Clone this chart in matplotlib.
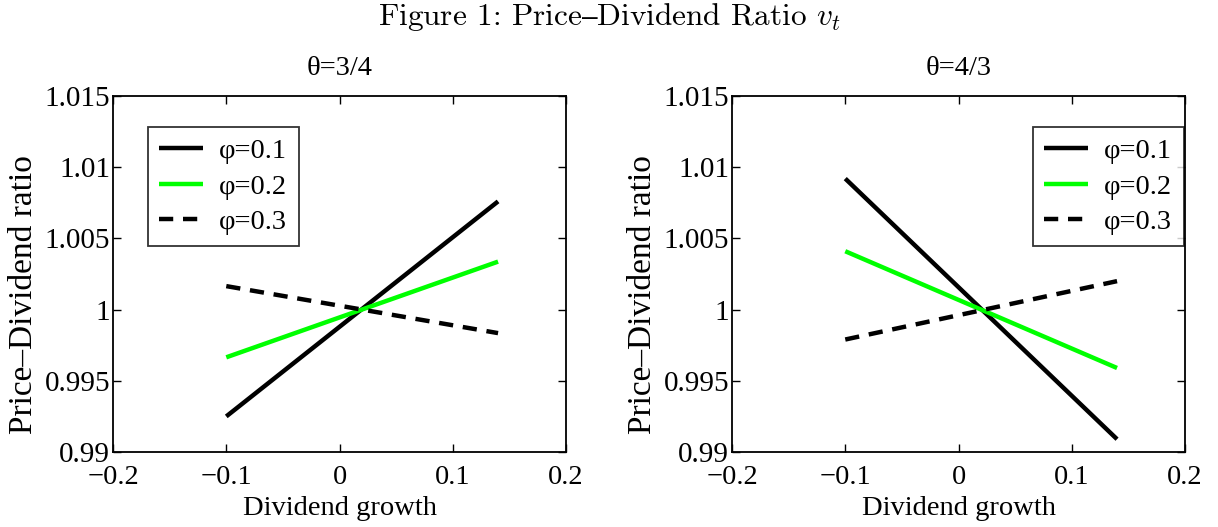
import matplotlib
matplotlib.use("Agg")
import matplotlib.pyplot as plt

# ---- data ----
x_growth = [-0.10, 0.14]
labels = ["φ=0.1", "φ=0.2", "φ=0.3"]
titles = ["θ=3/4", "θ=4/3"]
left_phi01 = [0.9925, 1.0076]
left_phi02 = [0.99665, 1.00337]
left_phi03 = [1.00165, 0.99835]
right_phi01 = [1.0092, 0.9909]
right_phi02 = [1.0041, 0.9959]
right_phi03 = [0.9979, 1.0020]
xticks = [-0.2, -0.1, 0, 0.1, 0.2]
xticklabels = ["\u22120.2", "\u22120.1", "0", "0.1", "0.2"]
yticks = [0.99, 0.995, 1.0, 1.005, 1.01, 1.015]
yticklabels = ["0.99", "0.995", "1", "1.005", "1.01", "1.015"]

plt.rcParams['font.family'] = ['Liberation Serif', 'DejaVu Serif']
plt.rcParams['mathtext.fontset'] = 'cm'

fig = plt.figure(figsize=(12.18, 5.27), dpi=100)
ax1 = fig.add_axes([0.0928, 0.1423, 0.3719, 0.6755])
ax2 = fig.add_axes([0.6010, 0.1423, 0.3719, 0.6755])

for ax, series, title, loc in [
    (ax1, [left_phi01, left_phi02, left_phi03], titles[0], 'upper left'),
    (ax2, [right_phi01, right_phi02, right_phi03], titles[1], 'upper right'),
]:
    ax.plot(x_growth, series[0], color='black', lw=3.2, solid_capstyle='butt', label=labels[0])
    ax.plot(x_growth, series[1], color='#00ff00', lw=3.2, solid_capstyle='butt', label=labels[1])
    ax.plot(x_growth, series[2], color='black', lw=3.2, dashes=(3.2, 2.2), dash_capstyle='butt', label=labels[2])
    ax.set_xlim(-0.2, 0.2)
    ax.set_ylim(0.99, 1.015)
    ax.set_xticks(xticks)
    ax.set_xticklabels(xticklabels)
    ax.set_yticks(yticks)
    ax.set_yticklabels(yticklabels)
    ax.tick_params(direction='in', top=True, right=True, length=6, width=1.0)
    ax.tick_params(axis='x', labelsize=20.5, pad=9)
    ax.tick_params(axis='y', labelsize=21, pad=2)
    for s in ax.spines.values():
        s.set_linewidth(1.3)
    ax.set_xlabel("Dividend growth", fontsize=20.5, labelpad=5)
    ax.set_ylabel("Price\u2013Dividend ratio", fontsize=24)
    ax.yaxis.set_label_coords(-0.163, 0.441)
    ax.set_title(title, fontsize=20.5, pad=15)
    if loc == 'upper left':
        anchor = (0.077, 0.913)
    else:
        anchor = (0.997, 0.913)
    leg = ax.legend(loc=loc, fontsize=20.5, frameon=True, fancybox=False,
                    edgecolor='black', handlelength=1.55, handletextpad=0.55,
                    borderpad=0.4, labelspacing=0.33, borderaxespad=0,
                    bbox_to_anchor=anchor)
    leg.get_frame().set_linewidth(1.3)

title_text = "Figure 1: Price$\\mathrm{\u2013}$Dividend Ratio $v_t$"
fig.text(0.5, 0.9526, title_text, ha='center', va='baseline', fontsize=22.5,
         family='cmr10')

fig.savefig("out.png", dpi=100)
